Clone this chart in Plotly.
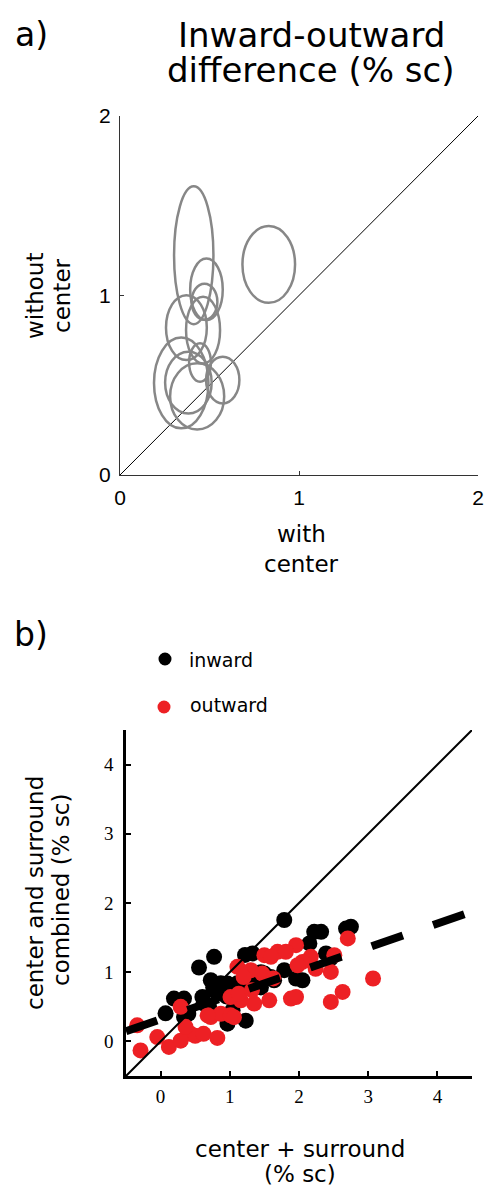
import plotly.graph_objects as go

W, H = 488, 1188

# ---------------- Panel a data (ellipses) ----------------
ell_cx = [0.412, 0.831, 0.483, 0.472, 0.371, 0.464, 0.447, 0.342, 0.382, 0.431, 0.574]
ell_cy = [1.224, 1.173, 1.034, 0.965, 0.821, 0.807, 0.627, 0.513, 0.515, 0.438, 0.529]
ell_rx = [0.110, 0.147, 0.091, 0.072, 0.114, 0.095, 0.061, 0.152, 0.130, 0.151, 0.093]
ell_ry = [0.384, 0.214, 0.172, 0.100, 0.181, 0.186, 0.107, 0.253, 0.172, 0.184, 0.130]
a_range = [0, 2]
a_ticks = [0, 1, 2]

# ---------------- Panel b data (scatter) ----------------
inward_x = [1.787, 2.75, 2.68, 2.22, 2.32, 2.15, 2.39, 2.46, 1.787, 2.05, 1.957, 1.64,
            1.50, 1.329, 1.22, 0.773, 0.555, 0.193, 0.338, 0.072, 0.604, 0.725, 0.966,
            1.159, 0.82, 0.70, 0.966, 1.23, 0.338, 1.594, 1.04, 1.45, 0.40, 1.35, 0.87,
            1.11, 0.85, 0.95, 0.76, 1.05, 0.62, 1.30, 1.45, 1.25]
inward_y = [1.754, 1.657, 1.63, 1.584, 1.584, 1.416, 1.271, 1.20, 1.029, 0.884, 0.909, 0.884,
            0.98, 1.271, 1.25, 1.222, 1.068, 0.619, 0.619, 0.406, 0.642, 0.884, 0.836,
            0.812, 0.69, 0.50, 0.256, 0.30, 0.352, 0.932, 0.45, 1.0, 0.40, 0.79, 0.84,
            0.84, 0.75, 0.65, 0.78, 0.72, 0.55, 0.90, 0.78, 0.98]
outward_x = [-0.338, -0.29, -0.048, 0.12, 0.29, 0.435, 0.50, 0.62, 0.82, 0.725, 0.87,
             1.11, 1.159, 1.352, 1.57, 1.69, 1.50, 1.304, 0.29, 2.705, 3.07, 2.63, 2.46,
             2.46, 2.17, 1.957, 1.81, 1.594, 2.05, 2.51, 1.884, 1.957, 1.98, 0.68, 1.01,
             1.47, 0.36, 1.01, 1.13, 1.32, 1.63, 2.24, 1.20, 1.06]
outward_y = [0.232, -0.13, 0.062, -0.08, 0.50, 0.11, 0.08, 0.11, 0.05, 0.352, 0.40,
             1.077, 0.594, 0.546, 0.594, 1.294, 1.246, 1.029, 0.01, 1.488, 0.909, 0.715, 0.57,
             1.004, 1.222, 1.391, 1.294, 1.222, 1.149, 1.246, 0.619, 0.642, 1.10, 0.377, 0.377,
             0.98, 0.21, 0.64, 0.69, 0.74, 0.91, 1.05, 0.93, 0.35]
fit_slope = 0.346
fit_intercept = 0.32
b_range = [-0.5, 4.5]
b_ticks = [0, 1, 2, 3, 4]

RED = "#ED2024"
GRAY = "#878787"


def px(x):
    return x / W


def py(y):
    return 1 - y / H


fig = go.Figure()

# identity line panel a
fig.add_trace(go.Scatter(x=a_range, y=a_range, mode="lines",
                         line=dict(color="black", width=1), xaxis="x", yaxis="y",
                         showlegend=False, hoverinfo="skip"))

shapes = []
for cx, cy, rx, ry in zip(ell_cx, ell_cy, ell_rx, ell_ry):
    shapes.append(dict(type="circle", xref="x", yref="y",
                       x0=cx - rx, x1=cx + rx, y0=cy - ry, y1=cy + ry,
                       line=dict(color=GRAY, width=2.5), layer="above"))

# panel b scatter
fig.add_trace(go.Scatter(x=inward_x, y=inward_y, mode="markers", name="inward",
                         marker=dict(color="black", size=16, line=dict(width=0)),
                         xaxis="x2", yaxis="y2", showlegend=False))
fig.add_trace(go.Scatter(x=outward_x, y=outward_y, mode="markers", name="outward",
                         marker=dict(color=RED, size=16, line=dict(width=0)),
                         xaxis="x2", yaxis="y2", showlegend=False))
# identity line panel b
fig.add_trace(go.Scatter(x=b_range, y=b_range, mode="lines",
                         line=dict(color="black", width=2), xaxis="x2", yaxis="y2",
                         showlegend=False, hoverinfo="skip"))
# fit line
fit_y = [fit_intercept + fit_slope * v for v in b_range]
fig.add_trace(go.Scatter(x=b_range, y=fit_y, mode="lines",
                         line=dict(color="black", width=8, dash="33px,32px"),
                         xaxis="x2", yaxis="y2", showlegend=False, hoverinfo="skip"))

# legend glyphs for panel b
shapes.append(dict(type="circle", xref="paper", yref="paper",
                   x0=px(165 - 6.5), x1=px(165 + 6.5), y0=py(659 + 6.5), y1=py(659 - 6.5),
                   fillcolor="black", line=dict(width=0)))
shapes.append(dict(type="circle", xref="paper", yref="paper",
                   x0=px(164 - 6.5), x1=px(164 + 6.5), y0=py(707 + 6.5), y1=py(707 - 6.5),
                   fillcolor=RED, line=dict(width=0)))

SANS = "DejaVu Sans"
ann = []


def txt(t, x, y, size, angle=0, xanchor="center"):
    ann.append(dict(text=t, x=px(x), y=py(y), xref="paper", yref="paper",
                    showarrow=False, xanchor=xanchor, yanchor="middle",
                    textangle=angle, font=dict(family=SANS, size=size, color="black")))


txt("a)", 31, 35, 33)
txt("Inward-outward", 311, 35, 34)
txt("difference (% sc)", 311, 70, 34)
txt("with", 301, 534, 23)
txt("center", 301, 564, 23)
txt("without", 35, 296, 23, angle=-90)
txt("center", 62, 296, 23, angle=-90)

txt("b)", 31, 634, 33)
txt("inward", 187, 660, 19, xanchor="left")
txt("outward", 188, 705, 19, xanchor="left")
txt("center and surround", 35, 893, 23, angle=-90)
txt("combined (% sc)", 61, 890, 23, angle=-90)
txt("center + surround", 300, 1149, 23)
txt("(% sc)", 300, 1174, 23)

axis_a = dict(range=a_range, tickvals=a_ticks, showgrid=False, zeroline=False,
              showline=True, linecolor="#333333", linewidth=1, ticks="inside",
              ticklen=4, tickcolor="#333333", tickwidth=1, automargin=False,
              fixedrange=True,
              tickfont=dict(family="Liberation Sans", size=21, color="black"))
axis_b = dict(range=b_range, tickvals=b_ticks, showgrid=False, zeroline=False,
              showline=True, linecolor="black", linewidth=2.5, ticks="inside",
              ticklen=5, tickcolor="black", tickwidth=2, automargin=False,
              fixedrange=True,
              tickfont=dict(family="Liberation Serif", size=19, color="black"))

fig.update_layout(
    width=W, height=H, margin=dict(l=0, r=0, t=0, b=0, pad=0, autoexpand=False),
    paper_bgcolor="white", plot_bgcolor="white",
    showlegend=False,
    xaxis=dict(axis_a, domain=[px(120), px(478)], anchor="y", ticklabelstandoff=4),
    yaxis=dict(axis_a, domain=[py(475), py(116)], anchor="x", ticklabelstandoff=4),
    xaxis2=dict(axis_b, domain=[px(126), px(472)], anchor="y2", ticklabelstandoff=1),
    yaxis2=dict(axis_b, domain=[py(1076), py(730)], anchor="x2", ticklabelstandoff=6),
    shapes=shapes, annotations=ann,
)

post = ("document.documentElement.style.margin='0';"
        "document.body.style.margin='0';document.body.style.padding='0';"
        "document.documentElement.style.overflow='hidden';"
        "document.body.style.overflow='hidden';"
        "var d=document.getElementById('{plot_id}');"
        "d.style.position='absolute';d.style.left='0px';d.style.top='0px';")

fig.write_html("out.html", post_script=post, config={"displayModeBar": False})
